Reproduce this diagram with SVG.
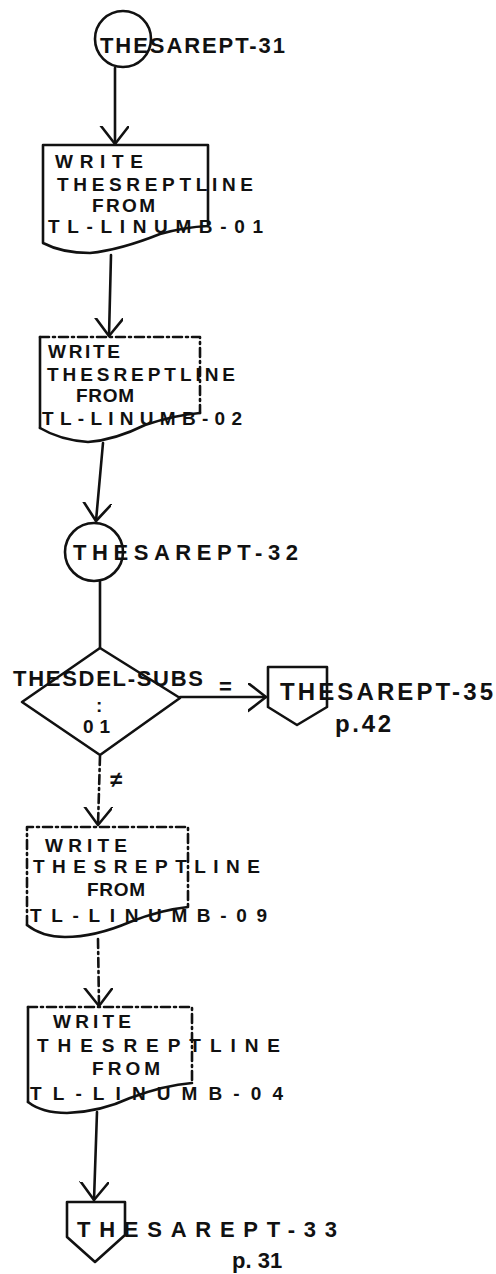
<svg xmlns="http://www.w3.org/2000/svg" width="496" height="1274" viewBox="0 0 496 1274">
<defs>
<style>
.ln{fill:none;stroke:#111;stroke-width:2.6;stroke-linecap:round;stroke-linejoin:round}
.ds{stroke-dasharray:9 4 2 4}
.t{font-family:"Liberation Sans",Arial,sans-serif;fill:#111;font-size:19px;font-weight:bold}
.tb{font-family:"Liberation Sans",Arial,sans-serif;fill:#111;font-size:22px;font-weight:bold}
.tl{font-family:"Liberation Sans",Arial,sans-serif;fill:#111;font-size:24px;font-weight:bold}
</style>
<marker id="v" viewBox="0 0 20 30" refX="18" refY="14" markerWidth="20" markerHeight="30" markerUnits="userSpaceOnUse" orient="auto">
<path d="M0,0 L18,14 L0,28" fill="none" stroke="#111" stroke-width="2.6" stroke-linecap="round" stroke-linejoin="round"/>
</marker>
</defs>
<rect width="496" height="1274" fill="#fff"/>

<g id="connectors">
<path class="ln" d="M115,68 L115,144" marker-end="url(#v)"/>
<path class="ln" d="M111,255 L109,336" marker-end="url(#v)"/>
<path class="ln" d="M103,443 L96,521" marker-end="url(#v)"/>
<path class="ln" d="M100,582 L100,648"/>
<path class="ln" d="M180,697 L266,697" marker-end="url(#v)"/>
<path class="ln ds" d="M100,756 L98,825" marker-end="url(#v)"/>
<path class="ln ds" d="M98,939 L99,1006" marker-end="url(#v)"/>
<path class="ln" d="M97,1112 L94,1200" marker-end="url(#v)"/>
<text class="tb" x="219" y="694">=</text>
<text class="tb" x="110" y="787" font-size="34">≠</text>
</g>

<g id="n-thesarept-31">
<circle class="ln" cx="123" cy="39" r="28"/>
<text class="tb" x="100" y="53" textLength="185" lengthAdjust="spacing">THESAREPT-31</text>
</g>

<g id="n-write-01">
<path class="ln" d="M43,243 L43,145 L208,145 L208,226 Q185,227 160,234 Q120,250 90,253 Q62,253 43,243 Z"/>
<text class="t" x="55" y="168" textLength="88" lengthAdjust="spacing">WRITE</text>
<text class="t" x="57" y="191" textLength="196" lengthAdjust="spacing">THESREPTLINE</text>
<text class="t" x="92" y="212" textLength="63" lengthAdjust="spacing">FROM</text>
<text class="t" x="48" y="233" textLength="215" lengthAdjust="spacing">TL-LINUMB-01</text>
</g>

<g id="n-write-02">
<path class="ln" d="M40,428 L40,337"/>
<path class="ln ds" d="M40,337 L200,337 L200,413"/>
<path class="ln" d="M200,413 Q175,415 145,425 Q115,440 88,442 Q60,440 40,428"/>
<text class="t" x="48" y="358" textLength="72" lengthAdjust="spacing">WRITE</text>
<text class="t" x="47" y="381" textLength="188" lengthAdjust="spacing">THESREPTLINE</text>
<text class="t" x="76" y="402" textLength="58" lengthAdjust="spacing">FROM</text>
<text class="t" x="42" y="425" textLength="200" lengthAdjust="spacing">TL-LINUMB-02</text>
</g>

<g id="n-thesarept-32">
<circle class="ln" cx="94" cy="552" r="29"/>
<text class="tb" x="73" y="560" textLength="225" lengthAdjust="spacing">THESAREPT-32</text>
</g>

<g id="n-decision">
<path class="ln" d="M100,648 L180,698 L100,755 L22,702 Z"/>
<text class="tb" x="13" y="686" textLength="190" lengthAdjust="spacing">THESDEL-SUBS</text>
<text class="t" x="96" y="712">:</text>
<text class="t" x="83" y="733" textLength="27" lengthAdjust="spacing">01</text>
</g>

<g id="n-thesarept-35">
<path class="ln" d="M268,667 L327,667 L327,707 L297,725 L268,707 Z"/>
<text class="tl" x="280" y="700" textLength="213" lengthAdjust="spacing">THESAREPT-35</text>
<text class="tl" x="335" y="732" textLength="56" lengthAdjust="spacing">p.42</text>
</g>

<g id="n-write-09">
<path class="ln ds" d="M27,925 L27,827 L188,827 L188,907"/>
<path class="ln" d="M188,907 Q160,910 130,922 Q95,937 65,937 Q42,937 27,925"/>
<text class="t" x="45" y="852" textLength="82" lengthAdjust="spacing">WRITE</text>
<text class="t" x="33" y="873" textLength="227" lengthAdjust="spacing">THESREPTLINE</text>
<text class="t" x="87" y="896" textLength="58" lengthAdjust="spacing">FROM</text>
<text class="t" x="30" y="922" textLength="237" lengthAdjust="spacing">TL-LINUMB-09</text>
</g>

<g id="n-write-04">
<path class="ln" d="M28,1102 L28,1007"/>
<path class="ln ds" d="M28,1007 L192,1007 L192,1083"/>
<path class="ln" d="M192,1083 Q165,1085 130,1098 Q100,1112 67,1113 Q42,1113 28,1102"/>
<text class="t" x="53" y="1028" textLength="78" lengthAdjust="spacing">WRITE</text>
<text class="t" x="37" y="1052" textLength="243" lengthAdjust="spacing">THESREPTLINE</text>
<text class="t" x="92" y="1075" textLength="68" lengthAdjust="spacing">FROM</text>
<text class="t" x="30" y="1100" textLength="253" lengthAdjust="spacing">TL-LINUMB-04</text>
</g>

<g id="n-thesarept-33">
<path class="ln" d="M67,1202 L125,1202 L125,1235 L95,1262 L67,1237 Z"/>
<text class="tb" x="77" y="1237" textLength="260" lengthAdjust="spacing">THESAREPT-33</text>
<text class="tb" x="232" y="1268">p. 31</text>
</g>
</svg>
